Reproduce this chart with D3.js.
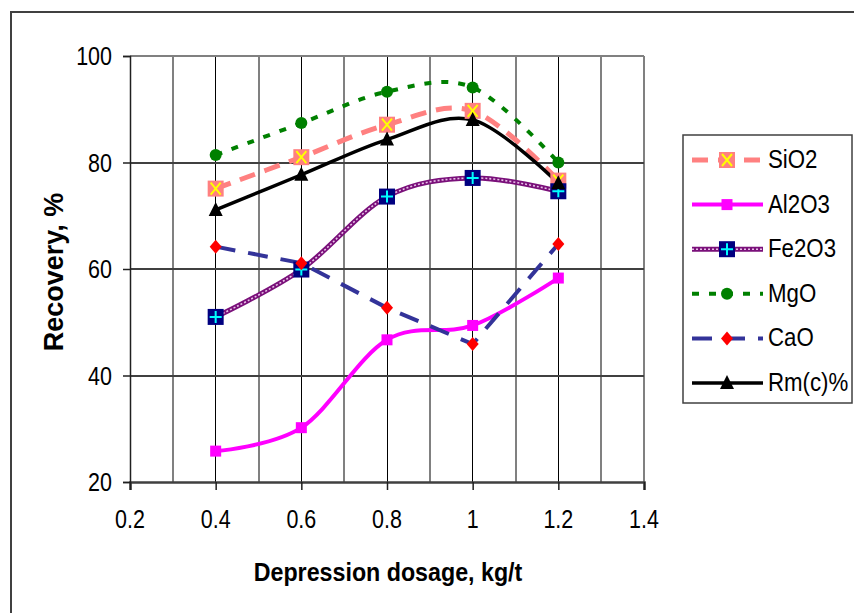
<!doctype html>
<html>
  <head>
    <script src="https://cdnjs.cloudflare.com/ajax/libs/d3/7.8.5/d3.min.js"></script>
    <style>
      body { margin: 0; background: #fff; }
      svg { display: block; font-family: "Liberation Sans", Arial, sans-serif; }
      .grid line { shape-rendering: crispEdges; }
    </style>
  </head>
  <body>
    <svg width="854" height="613"></svg>
    <script>
      // values
      var dosage = [0.4, 0.6, 0.8, 1.0, 1.2];
      var sio2  = [75.1, 81.0, 87.1, 89.7, 76.6];
      var al2o3 = [25.8, 30.2, 46.7, 49.4, 58.3];
      var fe2o3 = [51.0, 59.9, 73.6, 77.1, 74.6];
      var mgo   = [81.4, 87.4, 93.3, 94.1, 80.0];
      var cao   = [64.2, 61.1, 52.7, 45.9, 64.7];
      var rmc   = [71.1, 77.7, 84.3, 88.0, 76.1];
      var seriesNames = ["SiO2", "Al2O3", "Fe2O3", "MgO", "CaO", "Rm(c)%"];
      var xTicks = [0.2, 0.4, 0.6, 0.8, 1.0, 1.2, 1.4];
      var yTicks = [20, 40, 60, 80, 100];

      var svg = d3.select("svg");
      var x = d3.scaleLinear().domain([0.2, 1.4]).range([130, 644]);
      var y = d3.scaleLinear().domain([20, 100]).range([482, 56]);

      // outer chart frame (cut off at right/bottom)
      svg.append("rect")
          .attr("x", 11).attr("y", 12)
          .attr("width", 900).attr("height", 700)
          .attr("fill", "#fff").attr("stroke", "#404040").attr("stroke-width", 2);

      // grid
      var grid = svg.append("g").attr("class", "grid");
      d3.range(3, 15).forEach(function (i) {
        var v = i / 10, even = i % 2 === 0 && i !== 14;
        grid.append("line")
            .attr("x1", x(v)).attr("x2", x(v)).attr("y1", y(100)).attr("y2", y(20))
            .attr("stroke", even ? "#000" : "#808080")
            .attr("stroke-width", even ? 1 : 2);
      });
      yTicks.slice(1).forEach(function (v) {
        grid.append("line")
            .attr("x1", x(0.2)).attr("x2", x(1.4)).attr("y1", y(v)).attr("y2", y(v))
            .attr("stroke", v === 100 ? "#808080" : "#404040")
            .attr("stroke-width", 2);
      });

      // axes
      var xAxis = svg.append("g")
          .attr("transform", "translate(0," + y(20) + ")")
          .call(d3.axisBottom(x).tickValues(xTicks).tickSize(8).tickFormat(""));
      var yAxis = svg.append("g")
          .attr("transform", "translate(" + x(0.2) + ",0)")
          .call(d3.axisLeft(y).tickValues(yTicks).tickSize(7).tickFormat(""));
      xAxis.select(".domain").attr("stroke", "#404040").attr("stroke-width", 2.5);
      yAxis.select(".domain").attr("stroke", "#202020").attr("stroke-width", 1.5);
      svg.selectAll(".tick line").attr("stroke", "#202020").attr("stroke-width", 1.5);

      svg.append("g").selectAll("text").data(xTicks).enter().append("text")
          .attr("transform", function (d) { return "translate(" + x(d) + ",528) scale(0.86,1)"; })
          .attr("text-anchor", "middle")
          .attr("font-size", 25)
          .text(function (d) { return String(+d.toFixed(1)); });
      svg.append("g").selectAll("text").data(yTicks).enter().append("text")
          .attr("transform", function (d) { return "translate(112," + (y(d) + 9) + ") scale(0.86,1)"; })
          .attr("text-anchor", "end")
          .attr("font-size", 25)
          .text(function (d) { return d; });

      svg.append("text")
          .attr("transform", "translate(388,581) scale(0.93,1)")
          .attr("text-anchor", "middle")
          .attr("font-size", 25).attr("font-weight", "bold")
          .text("Depression dosage, kg/t");
      svg.append("text")
          .attr("transform", "translate(63,272) rotate(-90)")
          .attr("text-anchor", "middle")
          .attr("font-size", 27).attr("font-weight", "bold")
          .text("Recovery, %");

      // series styles
      var styles = [
        { name: seriesNames[0], values: sio2, color: "#ff8080", width: 5, dash: "16,10", curve: d3.curveCardinal, marker: "xsquare" },
        { name: seriesNames[1], values: al2o3, color: "#ff00ff", width: 4, dash: null, curve: d3.curveCardinal, marker: "square" },
        { name: seriesNames[2], values: fe2o3, color: "#7a107a", width: 5, dash: null, curve: d3.curveCardinal, marker: "plussquare", texture: true },
        { name: seriesNames[3], values: mgo, color: "#008000", width: 4, dash: "7,10", curve: d3.curveCardinal, marker: "circle" },
        { name: seriesNames[4], values: cao, color: "#333399", width: 4, dash: "20,13", curve: d3.curveLinear, marker: "diamond" },
        { name: seriesNames[5], values: rmc, color: "#000000", width: 3.5, dash: null, curve: d3.curveCardinal, marker: "triangle" }
      ];

      function drawMarker(g, kind, cx, cy) {
        if (kind === "xsquare") {
          g.append("rect").attr("x", cx - 8).attr("y", cy - 8).attr("width", 16).attr("height", 16).attr("fill", "#ff8080");
          g.append("path").attr("d", "M" + (cx - 5) + "," + (cy - 6) + "L" + (cx + 5) + "," + (cy + 6) +
              "M" + (cx + 5) + "," + (cy - 6) + "L" + (cx - 5) + "," + (cy + 6))
              .attr("stroke", "#ffff00").attr("stroke-width", 2);
        } else if (kind === "square") {
          g.append("rect").attr("x", cx - 5.5).attr("y", cy - 5.5).attr("width", 11).attr("height", 11).attr("fill", "#ff00ff");
        } else if (kind === "plussquare") {
          g.append("rect").attr("x", cx - 8).attr("y", cy - 8).attr("width", 16).attr("height", 16).attr("fill", "#000080");
          g.append("path").attr("d", "M" + (cx - 6) + "," + cy + "L" + (cx + 6) + "," + cy +
              "M" + cx + "," + (cy - 6) + "L" + cx + "," + (cy + 6))
              .attr("stroke", "#00ffff").attr("stroke-width", 2);
        } else if (kind === "circle") {
          g.append("circle").attr("cx", cx).attr("cy", cy).attr("r", 6).attr("fill", "#008000");
        } else if (kind === "diamond") {
          g.append("path").attr("d", "M" + cx + "," + (cy - 7) + "L" + (cx + 6) + "," + cy +
              "L" + cx + "," + (cy + 7) + "L" + (cx - 6) + "," + cy + "Z").attr("fill", "#ff0000");
        } else if (kind === "triangle") {
          g.append("path").attr("d", "M" + cx + "," + (cy - 8) + "L" + (cx + 7) + "," + (cy + 6) +
              "L" + (cx - 7) + "," + (cy + 6) + "Z").attr("fill", "#000");
        }
      }

      function styleLine(sel, s) {
        sel.attr("fill", "none")
            .attr("stroke", s.color)
            .attr("stroke-width", s.width)
            .attr("stroke-dasharray", s.dash);
      }

      var plot = svg.append("g");
      styles.forEach(function (s) {
        var pts = dosage.map(function (d, i) { return [x(d), y(s.values[i])]; });
        var line = d3.line().curve(s.curve);
        plot.append("path").datum(pts).attr("d", line).call(styleLine, s);
        if (s.texture) {
          plot.append("path").datum(pts).attr("d", line)
              .attr("fill", "none").attr("stroke", "#e8c0e8")
              .attr("stroke-width", 1.6).attr("stroke-dasharray", "2,2");
        }
      });
      styles.forEach(function (s) {
        var g = plot.append("g");
        dosage.forEach(function (d, i) { drawMarker(g, s.marker, x(d), y(s.values[i])); });
      });

      // legend
      var legend = svg.append("g");
      legend.append("rect")
          .attr("x", 683).attr("y", 135).attr("width", 169).attr("height", 268)
          .attr("fill", "#fff").attr("stroke", "#404040").attr("stroke-width", 1.5);
      styles.forEach(function (s, i) {
        var ly = 160 + i * 44.6;
        var g = legend.append("g");
        g.append("path").attr("d", "M692," + ly + "L763," + ly).call(styleLine, s);
        if (s.texture) {
          g.append("path").attr("d", "M692," + ly + "L763," + ly)
              .attr("stroke", "#e8c0e8").attr("stroke-width", 1.6).attr("stroke-dasharray", "2,2");
        }
        drawMarker(g, s.marker, 727, ly);
        g.append("text")
            .attr("transform", "translate(768," + (ly + 8) + ") scale(0.89,1)")
            .attr("font-size", 25)
            .text(s.name);
      });
    </script>
  </body>
</html>
